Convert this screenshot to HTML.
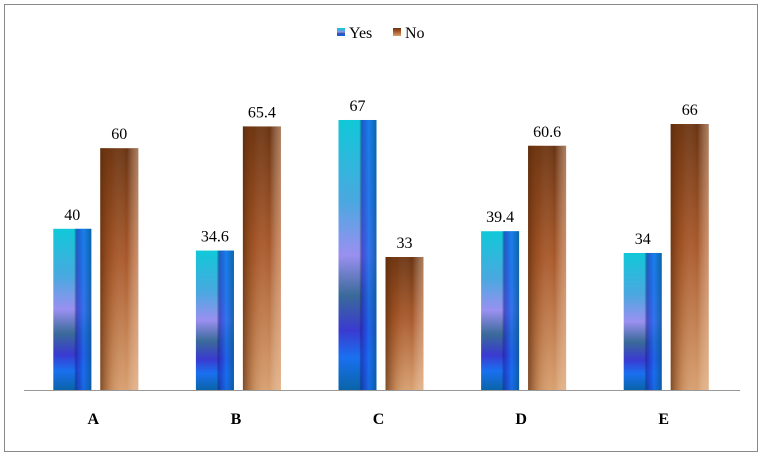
<!DOCTYPE html>
<html><head><meta charset="utf-8"><style>
body{margin:0;background:#fff;}
svg{display:block;}
svg text{font-family:"Liberation Serif","Times New Roman",serif;}
</style></head><body>
<svg id="chart" width="763" height="458">
<defs>
<linearGradient id="yesV" x1="0" y1="0" x2="0" y2="1">
<stop offset="0" stop-color="#10c8d8"/><stop offset="0.3" stop-color="#4aa8e0"/><stop offset="0.5" stop-color="#9a90f0"/><stop offset="0.65" stop-color="#3a6a9a"/><stop offset="0.78" stop-color="#3a3ad0"/><stop offset="0.88" stop-color="#1a70f0"/><stop offset="1" stop-color="#0a64a8"/>
</linearGradient>
<linearGradient id="yesH" x1="0" y1="0" x2="1" y2="0">
<stop offset="0" stop-color="#000" stop-opacity="0"/><stop offset="0.55" stop-color="#000" stop-opacity="0"/><stop offset="0.62" stop-color="#2030c0" stop-opacity="0.7"/><stop offset="0.8" stop-color="#1a6cf0" stop-opacity="0.8"/><stop offset="1" stop-color="#0a5aa0" stop-opacity="0.9"/>
</linearGradient>
<linearGradient id="noV" x1="0" y1="0" x2="0" y2="1">
<stop offset="0" stop-color="#6a3412"/><stop offset="0.45" stop-color="#a8582a"/><stop offset="1" stop-color="#d8a070"/>
</linearGradient>
<linearGradient id="noH" x1="0" y1="0" x2="1" y2="0">
<stop offset="0" stop-color="#5a2a0a" stop-opacity="0.7"/><stop offset="0.3" stop-color="#8a4518" stop-opacity="0.2"/><stop offset="0.7" stop-color="#fff" stop-opacity="0"/><stop offset="1" stop-color="#f0c8a8" stop-opacity="0.5"/>
</linearGradient>
</defs>
<rect x="4.5" y="4.5" width="753" height="447" fill="#fff" stroke="#888"/>
<g id="legend">
<rect x="337" y="28" width="8" height="8" fill="url(#yesV)"/>
<text x="349" y="38" font-size="16" font-family="Liberation Serif, serif">Yes</text>
<rect x="393" y="28" width="8" height="8" fill="url(#noV)"/>
<text x="405" y="38" font-size="16" font-family="Liberation Serif, serif">No</text>
</g>
<line x1="24" y1="390.5" x2="740" y2="390.5" stroke="#999"/>
<g id="bars"></g>
</svg>
<script>
const categories=["A","B","C","D","E"];
const yesValues=[40,34.6,67,39.4,34];
const noValues=[60,65.4,33,60.6,66];
const yesLabels=["40","34.6","67","39.4","34"];
const noLabels=["60","65.4","33","60.6","66"];
const ns="http://www.w3.org/2000/svg";
const g=document.getElementById("bars");
const base=390, scale=4.03, x0=22, step=142.6, bw=38;
function y(v){return base-v*scale;}
function cx(i){return x0+step*(i+0.5);}
function mk(t,a){const e=document.createElementNS(ns,t);for(const k in a)e.setAttribute(k,a[k]);g.appendChild(e);return e;}
categories.forEach((c,i)=>{
  const xc=cx(i);
  [[yesValues,yesLabels,"yes",xc-40,"yesV","yesH"],[noValues,noLabels,"no",xc+7,"noV","noH"]].forEach(s=>{
    const v=s[0][i];
    const r=mk("rect",{x:s[3],y:y(v),width:bw,height:v*scale,fill:"url(#"+s[4]+")"});
    
    
    const o=mk("rect",{x:s[3],y:y(v),width:bw,height:v*scale,fill:"url(#"+s[5]+")"});
    
    
    const t=mk("text",{x:s[3]+bw/2,y:y(v)-9,"text-anchor":"middle","font-size":"16","font-family":"Liberation Serif, serif"});
    t.textContent=s[1][i];
    
    
  });
  const l=mk("text",{x:xc,y:424,"text-anchor":"middle","font-size":"16","font-weight":"bold","font-family":"Liberation Serif, serif"});
  l.textContent=c;
  
  
});
</script>
</body></html>
